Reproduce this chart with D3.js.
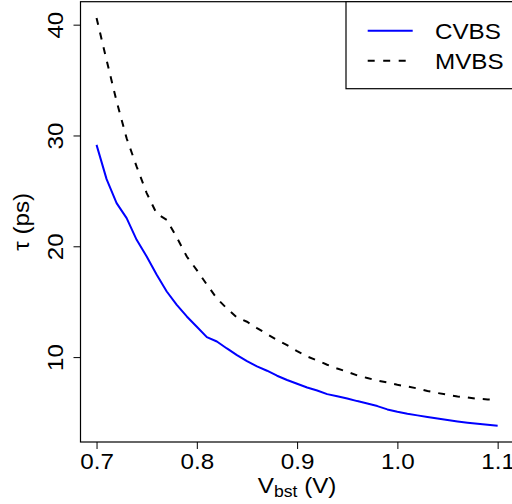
<!DOCTYPE html>
<html>
<head>
<meta charset="utf-8">
<script src="https://cdn.jsdelivr.net/npm/d3@7"></script>
<style>
  html, body { margin: 0; padding: 0; background: #fff; }
  svg { display: block; }
  text { font-family: "Liberation Sans", Arial, Helvetica, sans-serif; fill: #000; }
</style>
</head>
<body>
<svg id="chart" width="512" height="504"></svg>
<script>
// Boost voltage (V)
const vbst = [0.70, 0.71, 0.72, 0.73, 0.74, 0.75, 0.76, 0.77, 0.78, 0.79,
              0.80, 0.81, 0.82, 0.83, 0.84, 0.85, 0.86, 0.87, 0.88, 0.89,
              0.90, 0.91, 0.92, 0.93, 0.94, 0.95, 0.96, 0.97, 0.98, 0.99,
              1.00, 1.01, 1.02, 1.03, 1.04, 1.05, 1.06, 1.07, 1.08, 1.09, 1.10];

// Delay tau (ps) for each scheme
const cvbs = [29.15, 26.06, 23.89, 22.54, 20.58, 19.08, 17.43, 15.92, 14.72, 13.67,
              12.74, 11.80, 11.41, 10.78, 10.18, 9.64, 9.16, 8.77, 8.32, 7.93,
              7.59, 7.26, 6.99, 6.66, 6.47, 6.27, 6.03, 5.82, 5.58, 5.28,
              5.07, 4.89, 4.74, 4.59, 4.46, 4.32, 4.19, 4.08, 3.99, 3.90, 3.81];

const mvbs = [40.60, 36.80, 33.09, 29.75, 27.19, 24.80, 22.94, 22.39, 20.80, 19.08,
              17.85, 16.55, 15.29, 14.39, 13.58, 13.19, 12.62, 12.08, 11.54, 11.08,
              10.54, 10.06, 9.70, 9.31, 8.97, 8.68, 8.35, 8.11, 7.89, 7.71,
              7.50, 7.35, 7.17, 6.94, 6.76, 6.60, 6.45, 6.36, 6.24, 6.18, 6.15];

const xTicks = [0.7, 0.8, 0.9, 1.0, 1.1];
const yTicks = [10, 20, 30, 40];
const seriesNames = ["CVBS", "MVBS"];

const svg = d3.select("#chart");

// Plot region
const plotL = 80.5, plotR = 513.7, plotT = 1.7, plotB = 442;

// Axis ranges padded by 4% on each side
function padded(ext) {
  const p = (ext[1] - ext[0]) * 0.04;
  return [ext[0] - p, ext[1] + p];
}
const x = d3.scaleLinear().domain(padded(d3.extent(vbst))).range([plotL, plotR]);
const y = d3.scaleLinear().domain(padded(d3.extent(cvbs.concat(mvbs)))).range([plotB, plotT]);

const FS = 22;
const WIDE = "scale(1.1,1)";   // slightly wide lettering

// Curves
const line = d3.line().x(d => x(d[0])).y(d => y(d[1]));
svg.append("path")
  .datum(vbst.map((v, i) => [v, cvbs[i]]))
  .attr("d", line)
  .attr("fill", "none").attr("stroke", "#0000ff").attr("stroke-width", 2)
  .attr("stroke-linejoin", "round");
svg.append("path")
  .datum(vbst.map((v, i) => [v, mvbs[i]]))
  .attr("d", line)
  .attr("fill", "none").attr("stroke", "#000").attr("stroke-width", 2)
  .attr("stroke-dasharray", "7,8");

// Box
svg.append("rect")
  .attr("x", plotL).attr("y", plotT)
  .attr("width", plotR - plotL).attr("height", plotB - plotT)
  .attr("fill", "none").attr("stroke", "#000").attr("stroke-width", 1.2);

// X axis
const xAxis = d3.axisBottom(x).tickValues(xTicks).tickFormat(d3.format(".1f"))
  .tickSize(7).tickPadding(4);
const gx = svg.append("g").attr("transform", `translate(0,${plotB})`).call(xAxis);
gx.select(".domain").remove();
gx.selectAll(".tick line").attr("stroke", "#000");
gx.selectAll(".tick text")
  .attr("font-size", FS).attr("dy", null).attr("y", 27)
  .attr("transform", WIDE)
  .attr("font-family", "Liberation Sans, Arial, sans-serif");

// Y axis, labels parallel to the axis
const yAxis = d3.axisLeft(y).tickValues(yTicks).tickFormat(d3.format("d")).tickSize(7);
const gy = svg.append("g").attr("transform", `translate(${plotL},0)`).call(yAxis);
gy.select(".domain").remove();
gy.selectAll(".tick line").attr("stroke", "#000");
gy.selectAll(".tick text")
  .attr("x", null).attr("dy", null)
  .attr("text-anchor", "middle")
  .attr("transform", `translate(-17.5,0) rotate(-90) ${WIDE}`)
  .attr("font-size", FS)
  .attr("font-family", "Liberation Sans, Arial, sans-serif");

// Axis titles
const xt = svg.append("text")
  .attr("transform", `translate(${(plotL + plotR) / 2},492.5) ${WIDE}`)
  .attr("text-anchor", "middle").attr("font-size", FS);
xt.append("tspan").text("V");
xt.append("tspan").attr("font-size", 16).attr("dy", 4.5).text("bst");
xt.append("tspan").attr("dy", -4.5).text(" (V)");

svg.append("text")
  .attr("transform", `translate(28.7,${(plotT + plotB) / 2}) rotate(-90) ${WIDE}`)
  .attr("text-anchor", "middle").attr("font-size", FS)
  .text("τ (ps)");

// Legend
const lg = svg.append("g");
lg.append("rect")
  .attr("x", 346).attr("y", plotT).attr("width", 170).attr("height", 87)
  .attr("fill", "#fff").attr("stroke", "#000").attr("stroke-width", 1.2);
const rows = [
  { name: seriesNames[0], color: "#0000ff", dash: null, cy: 30.7 },
  { name: seriesNames[1], color: "#000", dash: "7,8.5", cy: 60.7 }
];
rows.forEach(r => {
  lg.append("line")
    .attr("x1", 367.7).attr("x2", 412.7).attr("y1", r.cy).attr("y2", r.cy)
    .attr("stroke", r.color).attr("stroke-width", 2)
    .attr("stroke-dasharray", r.dash);
  lg.append("text")
    .attr("transform", `translate(435,${r.cy + 0.358 * FS}) ${WIDE}`)
    .attr("font-size", FS).text(r.name);
});
</script>
</body>
</html>
